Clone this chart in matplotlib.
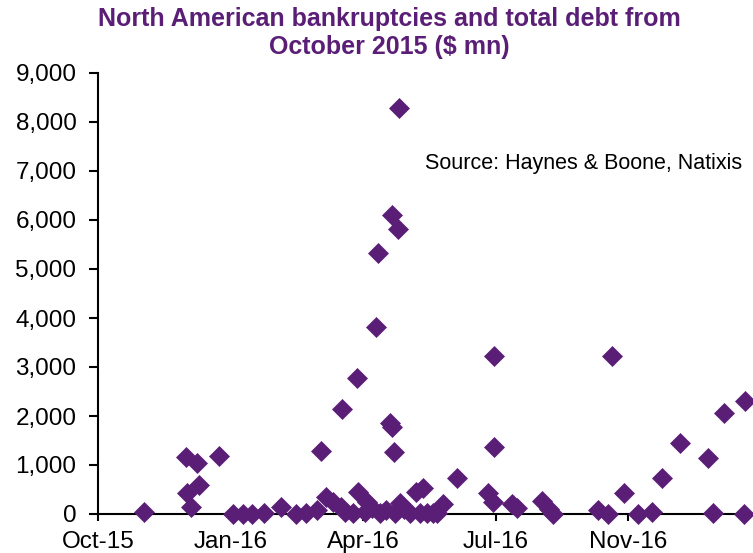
import matplotlib
matplotlib.use("Agg")
import matplotlib.pyplot as plt
import matplotlib.dates as mdates
import pandas as pd
from matplotlib.ticker import FuncFormatter, FixedLocator

plt.rcParams['font.family'] = ['Liberation Sans', 'DejaVu Sans']

# Data: filing dates and total debt ($ mn)
dates = [
    "2015-11-05", "2015-12-06", "2015-12-15", "2015-12-31", "2015-12-16", "2015-12-07", "2015-12-10",
    "2016-01-11", "2016-01-18", "2016-01-25", "2016-02-03", "2016-02-16", "2016-02-27", "2016-03-06",
    "2016-03-14", "2016-03-17", "2016-03-21", "2016-03-26", "2016-04-01", "2016-04-04", "2016-04-02",
    "2016-04-10", "2016-04-13", "2016-04-14", "2016-04-19", "2016-04-21", "2016-04-25", "2016-04-29",
    "2016-04-28", "2016-05-01", "2016-05-05", "2016-05-08", "2016-05-10", "2016-05-11", "2016-05-10",
    "2016-05-14", "2016-05-15", "2016-05-12", "2016-05-16", "2016-05-19", "2016-05-23", "2016-05-28",
    "2016-06-02", "2016-05-31", "2016-06-05", "2016-06-10", "2016-06-13", "2016-06-17", "2016-06-28",
    "2016-07-21", "2016-07-25", "2016-07-26", "2016-07-26", "2016-08-08", "2016-08-12", "2016-08-31",
    "2016-09-05", "2016-09-08", "2016-10-12", "2016-10-20", "2016-10-23", "2016-11-01", "2016-11-11",
    "2016-11-22", "2016-11-29", "2016-12-13", "2017-01-03", "2017-01-07", "2017-01-15", "2017-01-31",
    "2017-01-30",
]
debt = [
    50, 1170, 1050, 1190, 600, 430, 140,
    10, 10, 10, 20, 150, 10, 20,
    80, 1290, 350, 250, 150, 40, 2140,
    20, 2780, 450, 50, 250, 120, 5330,
    3820, 20, 80, 1860, 1780, 1260, 6100,
    5820, 8290, 30, 230, 100, 20, 450,
    530, 30, 20, 30, 20, 200, 730,
    430, 240, 3230, 1370, 200, 130, 270,
    100, 10, 80, 10, 3230, 420, 10,
    50, 730, 1450, 1140, 30, 2060, 2310,
    10,
]
axis_start = "2015-10-01"
axis_end = "2017-02-06"
tick_step_days = 100
y_ticks = [0, 1000, 2000, 3000, 4000, 5000, 6000, 7000, 8000, 9000]

title = "North American bankruptcies and total debt from\nOctober 2015 ($ mn)"
source = "Source: Haynes & Boone, Natixis"

purple = "#5a1e76"

fig = plt.figure(figsize=(7.53, 5.53), dpi=100)
ax = fig.add_axes([98 / 753, 39 / 553, 655 / 753, 441 / 553])

x = mdates.date2num(pd.to_datetime(dates))
ax.plot(x, debt, linestyle="none", marker="D", markersize=10,
        color=purple, markeredgecolor=purple, markeredgewidth=0.5,
        clip_on=False, zorder=5)

x0 = mdates.date2num(pd.Timestamp(axis_start))
x1 = mdates.date2num(pd.Timestamp(axis_end))
ax.set_xlim(x0, x1)
ax.set_ylim(0, 9000)

ticks = [x0 + i * tick_step_days for i in range(5)]
ax.xaxis.set_major_locator(FixedLocator(ticks))
ax.xaxis.set_major_formatter(mdates.DateFormatter("%b-%y"))
ax.set_yticks(y_ticks)
ax.yaxis.set_major_formatter(FuncFormatter(lambda v, p: f"{int(v):,}"))

for s in ["top", "right"]:
    ax.spines[s].set_visible(False)
for s in ["left", "bottom"]:
    ax.spines[s].set_linewidth(1.5)
    ax.spines[s].set_color("black")

ax.tick_params(axis="y", direction="out", length=6.5, width=1.5, pad=9,
               labelsize=17.5)
ax.tick_params(axis="x", direction="out", length=5, width=1.5, pad=7,
               labelsize=17.5)

fig.text(389 / 753, 1 - 7 / 553, title, ha="center", va="top",
         fontsize=18, fontweight="bold", color=purple, linespacing=1.2)
ax.text(425 / 753, 1 - 163 / 553, source, transform=fig.transFigure,
        ha="left", va="center", fontsize=15.5, color="black")

fig.savefig("out.png", dpi=100)
